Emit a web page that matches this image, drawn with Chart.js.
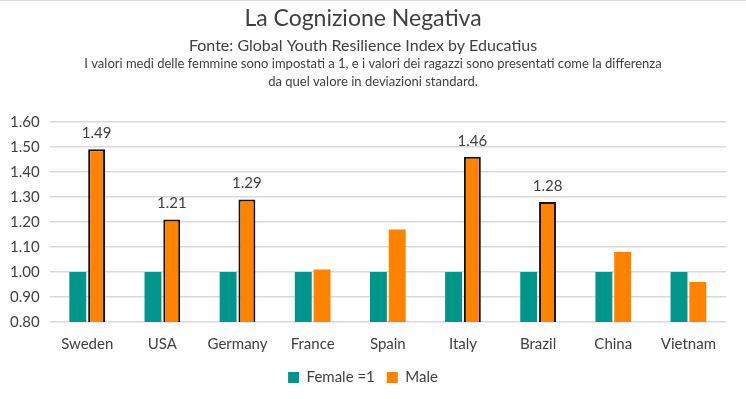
<!DOCTYPE html>
<html>
<head>
<meta charset="utf-8">
<script src="https://cdn.jsdelivr.net/npm/chart.js@4"></script>
<style>
    html, body { margin: 0; padding: 0; background: #fff; }
    #wrap { position: relative; width: 746px; height: 399px; box-sizing: border-box; border-top: 1px solid #d9d9d9; }
</style>
</head>
<body>
<div id="wrap"><canvas id="chart" width="746" height="398"></canvas></div>
<script>
const countries = ['Sweden', 'USA', 'Germany', 'France', 'Spain', 'Italy', 'Brazil', 'China', 'Vietnam'];
const femaleValues = [1, 1, 1, 1, 1, 1, 1, 1, 1];
const maleValues = [1.49, 1.21, 1.29, 1.01, 1.17, 1.46, 1.28, 1.08, 0.96];
const highlighted = [true, true, true, false, false, true, true, false, false];
const noteLines = [
    'I valori medi delle femmine sono impostati a 1, e i valori dei ragazzi sono presentati come la differenza',
    'da quel valore in deviazioni standard.'
];

const TEXT = '#404040';
const FONT = 'Lato, "Noto Sans", sans-serif';

// draws the note under the subtitle and value labels on highlighted bars
const extras = {
    id: 'extras',
    afterDatasetsDraw(chart) {
        const ctx = chart.ctx;
        ctx.save();
        ctx.fillStyle = TEXT;
        ctx.textAlign = 'center';
        ctx.textBaseline = 'middle';
        ctx.font = '13px ' + FONT;
        noteLines.forEach((line, i) => ctx.fillText(line, chart.width / 2, 63 + i * 18));

        ctx.font = '15px ' + FONT;
        const meta = chart.getDatasetMeta(1);
        meta.data.forEach((bar, i) => {
            if (!highlighted[i]) return;
            ctx.fillText(maleValues[i].toFixed(2), bar.x, bar.y - 16);
        });
        ctx.restore();
    }
};

new Chart(document.getElementById('chart'), {
    type: 'bar',
    data: {
        labels: countries,
        datasets: [
            {
                label: 'Female =1',
                data: femaleValues,
                backgroundColor: '#00968C',
                borderWidth: 0,
                categoryPercentage: 0.5,
                barPercentage: 0.9
            },
            {
                label: 'Male',
                data: maleValues,
                backgroundColor: '#FF8200',
                borderColor: '#111',
                borderWidth: highlighted.map(h => h ? 2 : 0),
                borderSkipped: false,
                categoryPercentage: 0.5,
                barPercentage: 0.9
            }
        ]
    },
    options: {
        responsive: false,
        animation: false,
        layout: { padding: { left: 0, right: 20, top: 0, bottom: 4 } },
        plugins: {
            title: {
                display: true,
                text: 'La Cognizione Negativa',
                color: TEXT,
                font: { family: FONT, size: 23, weight: 'normal' },
                padding: { top: 4, bottom: 3 }
            },
            subtitle: {
                display: true,
                text: 'Fonte: Global Youth Resilience Index by Educatius',
                color: TEXT,
                font: { family: FONT, size: 16, weight: 'normal' },
                padding: { top: 1, bottom: 66 }
            },
            legend: {
                position: 'bottom',
                labels: {
                    color: TEXT,
                    font: { family: FONT, size: 15 },
                    boxWidth: 11,
                    boxHeight: 11,
                    padding: 12,
                    generateLabels(chart) {
                        return chart.data.datasets.map((ds, i) => ({
                            text: ds.label,
                            fillStyle: ds.backgroundColor,
                            strokeStyle: ds.backgroundColor,
                            lineWidth: 0,
                            fontColor: TEXT,
                            datasetIndex: i
                        }));
                    }
                }
            },
            tooltip: { enabled: false }
        },
        scales: {
            x: {
                grid: { display: false },
                border: { display: false },
                ticks: { color: TEXT, font: { family: FONT, size: 15 }, padding: 5 }
            },
            y: {
                min: 0.8,
                max: 1.6,
                ticks: {
                    stepSize: 0.1,
                    color: TEXT,
                    font: { family: FONT, size: 15 },
                    padding: 10,
                    callback: v => v.toFixed(2)
                },
                grid: { color: '#d9d9d9', lineWidth: 1.5, drawTicks: false },
                border: { display: false }
            }
        }
    },
    plugins: [extras]
});
</script>
</body>
</html>
